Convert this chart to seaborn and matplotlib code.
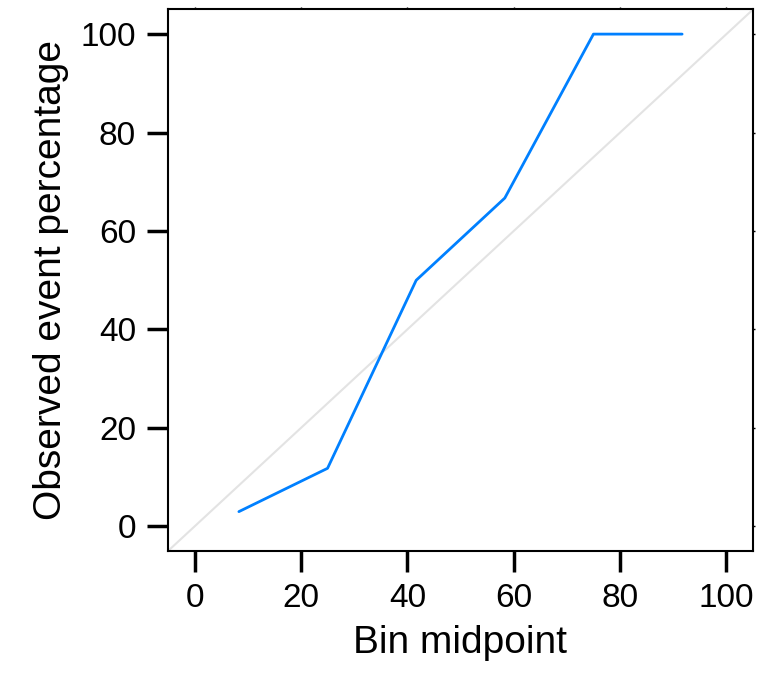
import matplotlib
matplotlib.use("Agg")
import matplotlib.pyplot as plt
import seaborn as sns
import pandas as pd

# Calibration data
bin_midpoint = [8.33, 25.0, 41.67, 58.33, 75.0, 91.67]
observed_pct = [3.0, 11.8, 50.0, 66.7, 100.0, 100.0]
tick_values = [0, 20, 40, 60, 80, 100]

sns.set_style("white")
plt.rcParams["font.family"] = ["Liberation Sans", "DejaVu Sans"]
plt.rcParams["axes.labelcolor"] = "black"

df = pd.DataFrame({"mid": bin_midpoint, "obs": observed_pct})

fig = plt.figure(figsize=(7.72, 6.78), dpi=100)
ax = fig.add_axes([0.2176, 0.1873, 0.9754 - 0.2176, 0.986 - 0.1873])

# Reference diagonal
ax.plot([-5, 105], [-5, 105], color="#e3e3e3", linewidth=1.5, zorder=1)

sns.lineplot(data=df, x="mid", y="obs", color="#0080ff", linewidth=2.0,
             ax=ax, zorder=2)

ax.set_xlim(-5, 105)
ax.set_ylim(-5, 105)
ax.set_xticks(tick_values)
ax.set_yticks(tick_values)

for side in ["top", "right", "bottom", "left"]:
    ax.spines[side].set_visible(True)
    ax.spines[side].set_color("black")
    ax.spines[side].set_linewidth(1.5)

# lattice-like outside ticks on bottom/left
ax.tick_params(axis="both", direction="out", length=15, width=2.5,
               colors="black", labelsize=24, pad=8,
               bottom=True, left=True, top=False, right=False)
for t in ax.xaxis.get_major_ticks() + ax.yaxis.get_major_ticks():
    t.tick1line.set_snap(False)
    t.tick1line.set_antialiased(True)

# tiny stubs on top/right
ax.vlines(tick_values, 1, 1.004, transform=ax.get_xaxis_transform(),
          color="black", linewidth=1, clip_on=False)
ax.hlines(tick_values, 1, 1.004, transform=ax.get_yaxis_transform(),
          color="black", linewidth=1, clip_on=False)

ax.set_xlabel("Bin midpoint", fontsize=28, labelpad=8)
ax.set_ylabel("Observed event percentage", fontsize=28, labelpad=8)

plt.savefig("out.png", dpi=100)
plt.close()
